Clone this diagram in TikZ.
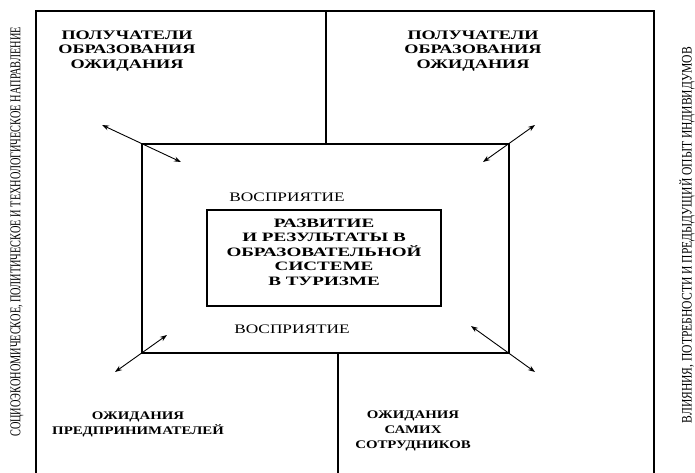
\documentclass[tikz,border=0pt]{standalone}
\usepackage{fontspec}
\setmainfont{Liberation Serif}
\newfontfamily\wideserif[FakeStretch=1.33]{Liberation Serif}
\newfontfamily\headserif[FakeStretch=1.40]{Liberation Serif}
\newfontfamily\coreserif[FakeStretch=1.49]{Liberation Serif}
\newfontfamily\lowserif[FakeStretch=1.28]{Liberation Serif}
\usetikzlibrary{arrows.meta}

\tikzset{
    frame line/.style={draw=black, line width=1.1pt},
    heading/.style={align=center, font=\headserif\bfseries\fontsize{13}{14.5}\selectfont, inner sep=0pt},
    low heading/.style={align=center, font=\lowserif\bfseries\fontsize{11.6}{15}\selectfont, inner sep=0pt},
    core text/.style={align=center, font=\coreserif\bfseries\fontsize{12.8}{14.5}\selectfont, inner sep=0pt},
    percept/.style={font=\wideserif\fontsize{13}{14.5}\selectfont, inner sep=0pt},
    side text/.style={rotate=90, inner sep=0pt},
    link/.style={line width=0.9pt, {Stealth[length=7pt,width=5pt]}-{Stealth[length=7pt,width=5pt]}},
}

\begin{document}
\begin{tikzpicture}[x=1pt, y=-1pt]
    \useasboundingbox (0,0) rectangle (695,473);
    \draw[frame line] (36,473) -- (36,11) -- (654,11) -- (654,473);
    \node[frame line, minimum width=367pt, minimum height=209pt, inner sep=0pt] (inner) at (325.5,248.5) {};
    \draw[frame line] (326,11) -- (inner.north -| 326,0);
    \draw[frame line] (inner.south -| 338,0) -- (338,473);
    \node[frame line, minimum width=234pt, minimum height=96pt, inner sep=0pt] (core) at (324,258) {};
    \node[core text] (coretext) at (324,252)
        {РАЗВИТИЕ\\И РЕЗУЛЬТАТЫ В\\ОБРАЗОВАТЕЛЬНОЙ\\СИСТЕМЕ\\В ТУРИЗМЕ};
    \node[percept] (perctop) at (287,197) {ВОСПРИЯТИЕ};
    \node[percept] (percbot) at (292,329) {ВОСПРИЯТИЕ};
    \node[heading] (recvleft) at (127,51) {ПОЛУЧАТЕЛИ\\ОБРАЗОВАНИЯ\\ОЖИДАНИЯ};
    \node[heading] (recvright) at (473,51) {ПОЛУЧАТЕЛИ\\ОБРАЗОВАНИЯ\\ОЖИДАНИЯ};
    \node[low heading] (employers) at (138,424) {ОЖИДАНИЯ\\ПРЕДПРИНИМАТЕЛЕЙ};
    \node[low heading] (staff) at (413,431) {ОЖИДАНИЯ\\САМИХ\\СОТРУДНИКОВ};
    \node[side text, font=\fontsize{10.3}{12}\selectfont] (context) at (17,232)
        {\scalebox{1}[1.45]{СОЦИОЭКОНОМИЧЕСКОЕ, ПОЛИТИЧЕСКОЕ И ТЕХНОЛОГИЧЕСКОЕ НАПРАВЛЕНИЕ}};
    \node[side text, font=\fontsize{11.6}{12}\selectfont] (influence) at (687,235)
        {\scalebox{1}[1.25]{ВЛИЯНИЯ, ПОТРЕБНОСТИ И ПРЕДЫДУЩИЙ ОПЫТ ИНДИВИДУМОВ}};
    \coordinate (tlout) at (102,125);
    \coordinate (tlin) at (181,162);
    \coordinate (trout) at (535,125);
    \coordinate (trin) at (483,162);
    \coordinate (blin) at (167,335);
    \coordinate (blout) at (115,372);
    \coordinate (brin) at (471,326);
    \coordinate (brout) at (535,372);
    \draw[link] (tlout) -- (tlin);
    \draw[link] (trout) -- (trin);
    \draw[link] (blin) -- (blout);
    \draw[link] (brin) -- (brout);
\end{tikzpicture}
\end{document}
